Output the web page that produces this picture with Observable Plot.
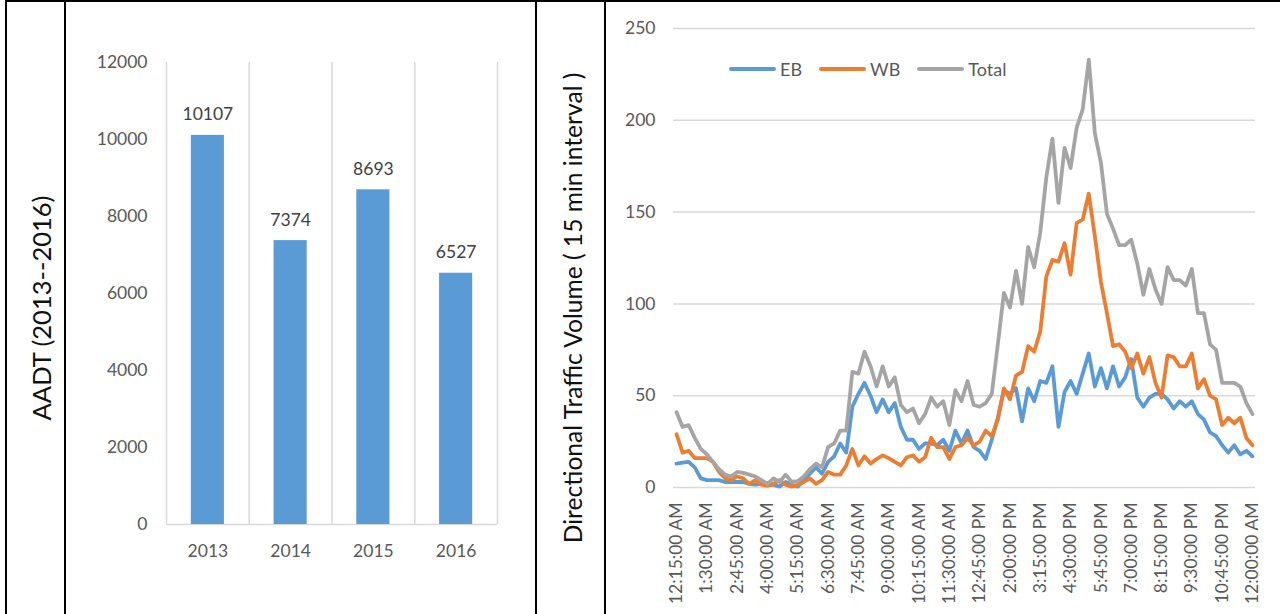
<!DOCTYPE html>
<html>
<head>
<meta charset="utf-8">
<script src="https://cdn.jsdelivr.net/npm/d3@7"></script>
<script src="https://cdn.jsdelivr.net/npm/@observablehq/plot@0.6"></script>
<style>
  html, body { margin: 0; padding: 0; background: #fff; }
  #root { position: relative; width: 1280px; height: 614px; overflow: hidden; font-family: Lato, "Liberation Sans", sans-serif; }
  .b { position: absolute; background: #000; }
  .ytitle { position: absolute; white-space: nowrap; color: #111; transform: translate(-50%, -50%) rotate(-90deg); }
  #left, #right { position: absolute; top: 0; }
  #legend { position: absolute; left: 729px; top: 58px; display: flex; align-items: center; font-size: 18px; color: #595959; }
  #legend .sw { display: inline-block; width: 47px; height: 4px; border-radius: 2px; margin-right: 4px; }
  #legend .it { display: flex; align-items: center; margin-right: 17px; }
</style>
</head>
<body>
<div id="root">
  <div class="b" style="left:5px;top:0;width:1275px;height:2px"></div>
  <div class="b" style="left:5px;top:0;width:2px;height:614px"></div>
  <div class="b" style="left:64px;top:0;width:2px;height:614px"></div>
  <div class="b" style="left:535px;top:0;width:2px;height:614px"></div>
  <div class="b" style="left:604px;top:0;width:2px;height:614px"></div>
  <div class="ytitle" id="t1" style="left:41px;top:308px;font-size:25.5px">AADT (2013--2016)</div>
  <div class="ytitle" id="t2" style="left:572px;top:308px;font-size:24.6px">Directional Traffic Volume ( 15 min interval )</div>
  <div id="left" style="left:66px"></div>
  <div id="right" style="left:606px"></div>
  <div id="legend"></div>
</div>
<script>
// ---- Left chart data ----
const years = ["2013", "2014", "2015", "2016"];
const aadt = [10107, 7374, 8693, 6527];
const aadtTicks = [0, 2000, 4000, 6000, 8000, 10000, 12000];

// ---- Right chart data ----
const times = [
  "12:15:00 AM","12:30:00 AM","12:45:00 AM",
  "1:00:00 AM","1:15:00 AM","1:30:00 AM","1:45:00 AM",
  "2:00:00 AM","2:15:00 AM","2:30:00 AM","2:45:00 AM",
  "3:00:00 AM","3:15:00 AM","3:30:00 AM","3:45:00 AM",
  "4:00:00 AM","4:15:00 AM","4:30:00 AM","4:45:00 AM",
  "5:00:00 AM","5:15:00 AM","5:30:00 AM","5:45:00 AM",
  "6:00:00 AM","6:15:00 AM","6:30:00 AM","6:45:00 AM",
  "7:00:00 AM","7:15:00 AM","7:30:00 AM","7:45:00 AM",
  "8:00:00 AM","8:15:00 AM","8:30:00 AM","8:45:00 AM",
  "9:00:00 AM","9:15:00 AM","9:30:00 AM","9:45:00 AM",
  "10:00:00 AM","10:15:00 AM","10:30:00 AM","10:45:00 AM",
  "11:00:00 AM","11:15:00 AM","11:30:00 AM","11:45:00 AM",
  "12:00:00 PM","12:15:00 PM","12:30:00 PM","12:45:00 PM",
  "1:00:00 PM","1:15:00 PM","1:30:00 PM","1:45:00 PM",
  "2:00:00 PM","2:15:00 PM","2:30:00 PM","2:45:00 PM",
  "3:00:00 PM","3:15:00 PM","3:30:00 PM","3:45:00 PM",
  "4:00:00 PM","4:15:00 PM","4:30:00 PM","4:45:00 PM",
  "5:00:00 PM","5:15:00 PM","5:30:00 PM","5:45:00 PM",
  "6:00:00 PM","6:15:00 PM","6:30:00 PM","6:45:00 PM",
  "7:00:00 PM","7:15:00 PM","7:30:00 PM","7:45:00 PM",
  "8:00:00 PM","8:15:00 PM","8:30:00 PM","8:45:00 PM",
  "9:00:00 PM","9:15:00 PM","9:30:00 PM","9:45:00 PM",
  "10:00:00 PM","10:15:00 PM","10:30:00 PM","10:45:00 PM",
  "11:00:00 PM","11:15:00 PM","11:30:00 PM","11:45:00 PM",
  "12:00:00 AM"
];
const timeTickLabels = ["12:15:00 AM","1:30:00 AM","2:45:00 AM","4:00:00 AM","5:15:00 AM","6:30:00 AM",
  "7:45:00 AM","9:00:00 AM","10:15:00 AM","11:30:00 AM","12:45:00 PM","2:00:00 PM","3:15:00 PM",
  "4:30:00 PM","5:45:00 PM","7:00:00 PM","8:15:00 PM","9:30:00 PM","10:45:00 PM","12:00:00 AM"];
const volumeTicks = [0, 50, 100, 150, 200, 250];

const EB = [13,13.5,14,11,5,4,4,4,3,3, 3,3,2,1.5,2,1.5,1.5,0.5,3,1.5,
  0.5,4,7.5,11,7.5,14,17,24,19,44, 51,57,50,41,48,41,46,33,26,26,
  21,24,24,23,26,20,31,24,31,22, 20,15.5,26,38,53,51,54,36,54,47,
  58,57,66,33,52,58,51,62,73,55, 65,54,66,55,60,70,49,44,49,51,
  51,48,43,47,44,47,40,37,30,28, 23,19,23,18,20,17];
const WB = [29,19,20,16,16,16,14,8.5,5,4, 6,5,2,4,1.5,1,2,4,1.5,0.5,
  1.5,3,5,2,4,8.5,7,7,12,21, 12,17,13,15.5,17.5,16,14,12,16.5,17.5,
  14,16.5,27,22,22,15.5,22,23,27,23, 25,31,28,37,54,48,61,63,77,74,
  85,115,124,123,133,116,144,146,160,137, 112,95,77,78,74,65,73,62,71,57,
  49,72,71,66,66,73,54,59,50,48, 34,38,35,38,27,23];
const Total = [41,33,34,27,21,18,14,10,7,6, 8.5,8,7,6,4,2,5,3,7,3,
  3.5,6,10,13,11,22,24,31,31,63, 62,74,66,55,66,55,60,45,41,43,
  35,40,49,44,47,34,53,47,58,45, 44,46,51,78,106,98,118,100,131,120,
  139,169,190,155,185,174,196,206,233,193, 177,149,141,132,132,135,122,105,119,108,
  100,120,113,113,110,119,95,95,78,75, 57,57,57,55,46,40];

const seriesNames = ["EB", "WB", "Total"];
const seriesValues = [EB, WB, Total];
const seriesColors = ["#5B9BD5", "#ED7D31", "#A5A5A5"];

// ---- Left: bar chart ----
const barRows = years.map((y, i) => ({pos: i + 1, year: y, value: aadt[i]}));
const bounds = d3.range(years.length + 1).map(i => i + 0.5);
const left = Plot.plot({
  width: 469, height: 614,
  marginLeft: 100, marginRight: 38, marginTop: 62, marginBottom: 90,
  style: {fontFamily: "Lato, 'Liberation Sans', sans-serif", fontSize: "17.5px", color: "#595959", background: "transparent", overflow: "visible"},
  x: {domain: [0.5, years.length + 0.5], ticks: barRows.map(d => d.pos), tickFormat: i => years[i - 1], tickSize: 0, tickPadding: 20, label: null},
  y: {domain: [0, 12000], ticks: aadtTicks, tickFormat: d => String(d), tickSize: 0, tickPadding: 19, label: null},
  marks: [
    Plot.ruleX(bounds, {x: d => d, y1: 0, y2: 12000, stroke: "#d9d9d9", strokeWidth: 1.5}),
    Plot.ruleY([0], {stroke: "#d9d9d9", strokeWidth: 1.5}),
    Plot.rectY(barRows, {x1: d => d.pos - 0.2, x2: d => d.pos + 0.2, y1: 0, y2: "value", fill: "#5B9BD5"}),
    Plot.text(barRows, {x: "pos", y: "value", text: d => String(d.value), dy: -15, lineAnchor: "bottom", fill: "#404040", fontSize: 17.5})
  ]
});
document.getElementById("left").appendChild(left);

// ---- Right: line chart ----
const tickIdx = timeTickLabels.map(t => times.lastIndexOf(t));
const lineMarks = seriesValues.map((vals, s) =>
  Plot.lineY(vals, {x: (d, i) => i, y: d => d, stroke: seriesColors[s], strokeWidth: 3.8, strokeLinejoin: "round", strokeLinecap: "round"})
);
const right = Plot.plot({
  width: 674, height: 614,
  marginLeft: 67, marginRight: 25, marginTop: 28, marginBottom: 127,
  style: {fontFamily: "Lato, 'Liberation Sans', sans-serif", fontSize: "17.5px", color: "#595959", background: "transparent", overflow: "visible"},
  x: {domain: [-0.5, times.length - 0.5], ticks: tickIdx, tickFormat: i => times[i], tickRotate: -90, tickSize: 0, tickPadding: 15, label: null},
  y: {domain: [0, 250], ticks: volumeTicks, tickFormat: d => String(d), tickSize: 0, tickPadding: 18, label: null},
  marks: [
    Plot.ruleY(volumeTicks, {stroke: "#d9d9d9", strokeWidth: 1.5}),
    ...lineMarks
  ]
});
document.getElementById("right").appendChild(right);

// ---- Legend ----
const legend = document.getElementById("legend");
seriesNames.forEach((name, s) => {
  const it = document.createElement("div");
  it.className = "it";
  const sw = document.createElement("span");
  sw.className = "sw";
  sw.style.background = seriesColors[s];
  const tx = document.createElement("span");
  tx.textContent = name;
  it.appendChild(sw);
  it.appendChild(tx);
  legend.appendChild(it);
});
</script>
</body>
</html>
